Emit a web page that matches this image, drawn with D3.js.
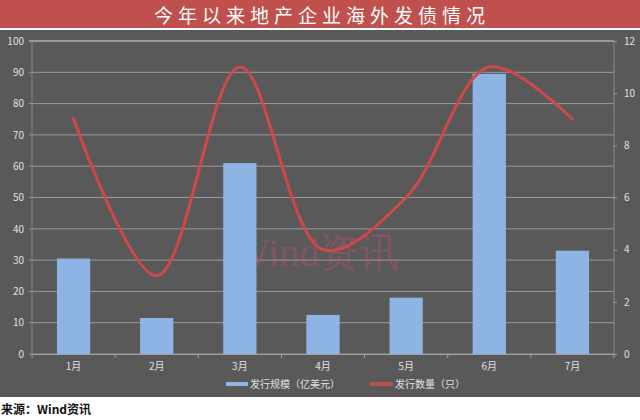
<!DOCTYPE html>
<html><head><meta charset="utf-8">
<script src="https://cdn.jsdelivr.net/npm/d3@7"></script>
<style>body{margin:0;background:#fff}svg{display:block}</style>
</head><body><svg id="c" width="640" height="420"></svg>
<script>
const months = ["1月","2月","3月","4月","5月","6月","7月"];
const scaleValues = [30.5, 11.5, 61, 12.5, 18, 89.5, 33];
const countValues = [9, 3, 11, 4, 6, 11, 9];
const leftTicks = [0,10,20,30,40,50,60,70,80,90,100];
const rightTicks = [0,2,4,6,8,10,12];
const title = "今年以来地产企业海外发债情况";
const legendLabels = ["发行规模（亿美元）","发行数量（只）"];
const sourceText = "来源：Wind资讯";

const svg = d3.select("#c");
const font = "'Noto Sans CJK SC', 'Noto Sans', sans-serif";
const L = 32, R = 614, T = 41, B = 354;

svg.append("rect").attr("x",0).attr("y",0).attr("width",640).attr("height",420).attr("fill","#fff");
svg.append("rect").attr("x",0).attr("y",0).attr("width",640).attr("height",28).attr("fill","#c0504d");
svg.append("text").attr("x",322).attr("y",23).attr("text-anchor","middle")
  .attr("font-family","'Noto Sans CJK SC', serif").attr("font-size",19).attr("fill","#fff")
  .attr("letter-spacing",5).text(title);
svg.append("rect").attr("x",0).attr("y",30).attr("width",640).attr("height",367).attr("fill","#595959");

const x = d3.scaleBand().domain(months).range([L,R]).paddingInner(0.6).paddingOuter(0.3);
const xs = d3.scaleBand().domain(months).range([L,R]).padding(0);
const yL = d3.scaleLinear().domain([0,100]).range([B,T]);
const yR = d3.scaleLinear().domain([0,12]).range([B,T]);

// gridlines
svg.append("g").selectAll("line").data(leftTicks).join("line")
  .attr("x1",L-3).attr("x2",R).attr("y1",d=>yL(d)).attr("y2",d=>yL(d))
  .attr("stroke",d=>d===100?"#d8d8d8":"#9a9a9a").attr("stroke-width",1);
svg.append("line").attr("x1",L).attr("x2",L).attr("y1",T).attr("y2",B).attr("stroke","#8a8a8a");
svg.append("line").attr("x1",R).attr("x2",R).attr("y1",T).attr("y2",B).attr("stroke","#8a8a8a");

// watermark
svg.append("text").attr("x",232).attr("y",266).attr("font-family","'Liberation Serif', serif")
  .attr("font-size",40).attr("fill","#c8507a").attr("opacity",0.35).text("Wind资讯");

// bars
svg.append("g").selectAll("rect").data(scaleValues).join("rect")
  .attr("x",(d,i)=>x(months[i])).attr("width",x.bandwidth())
  .attr("y",d=>yL(d)).attr("height",d=>B-yL(d)).attr("fill","#8db4e2");

// x axis
const xAxis = d3.axisBottom(xs).tickSize(0).tickPadding(9);
const gx = svg.append("g").attr("transform",`translate(0,${B})`).call(xAxis);
gx.select(".domain").attr("stroke","#a0a0a0");
gx.selectAll("text").attr("fill","#e0e0e0").attr("font-size",10).attr("font-family",font);
svg.append("g").selectAll("line").data(d3.range(months.length+1)).join("line")
  .attr("x1",i=>L+i*xs.step()).attr("x2",i=>L+i*xs.step()).attr("y1",B).attr("y2",B+4)
  .attr("stroke","#a0a0a0");

// left axis
const gl = svg.append("g").attr("transform",`translate(${L},0)`)
  .call(d3.axisLeft(yL).tickValues(leftTicks).tickSize(0).tickPadding(8));
gl.select(".domain").remove();
gl.selectAll("text").attr("fill","#e0e0e0").attr("font-size",10).attr("font-family",font);
// right axis
const gr = svg.append("g").attr("transform",`translate(${R},0)`)
  .call(d3.axisRight(yR).tickValues(rightTicks).tickSize(3).tickPadding(7));
gr.select(".domain").remove();
gr.selectAll("line").attr("stroke","#a0a0a0");
gr.selectAll("text").attr("fill","#e0e0e0").attr("font-size",10).attr("font-family",font);

// line
const line = d3.line().x((d,i)=>x(months[i])+x.bandwidth()/2).y(d=>yR(d)).curve(d3.curveCatmullRom.alpha(0.5));
svg.append("path").datum(countValues).attr("d",line).attr("fill","none")
  .attr("stroke","#d0484a").attr("stroke-width",3).attr("stroke-linecap","round");

// legend
const lg = svg.append("g").attr("font-family",font).attr("font-size",10).attr("fill","#e0e0e0");
lg.append("rect").attr("x",226).attr("y",382).attr("width",22).attr("height",4).attr("fill","#8db4e2");
lg.append("text").attr("x",250).attr("y",388).attr("fill","#e0e0e0").text(legendLabels[0]);
lg.append("rect").attr("x",370).attr("y",382).attr("width",23).attr("height",4).attr("fill","#c0504d");
lg.append("text").attr("x",395).attr("y",388).attr("fill","#e0e0e0").text(legendLabels[1]);

// source
svg.append("text").attr("x",1).attr("y",414).attr("font-family","'Noto Sans CJK SC', sans-serif")
  .attr("font-size",12).attr("font-weight","bold").attr("fill","#111").text(sourceText);
</script></body></html>
